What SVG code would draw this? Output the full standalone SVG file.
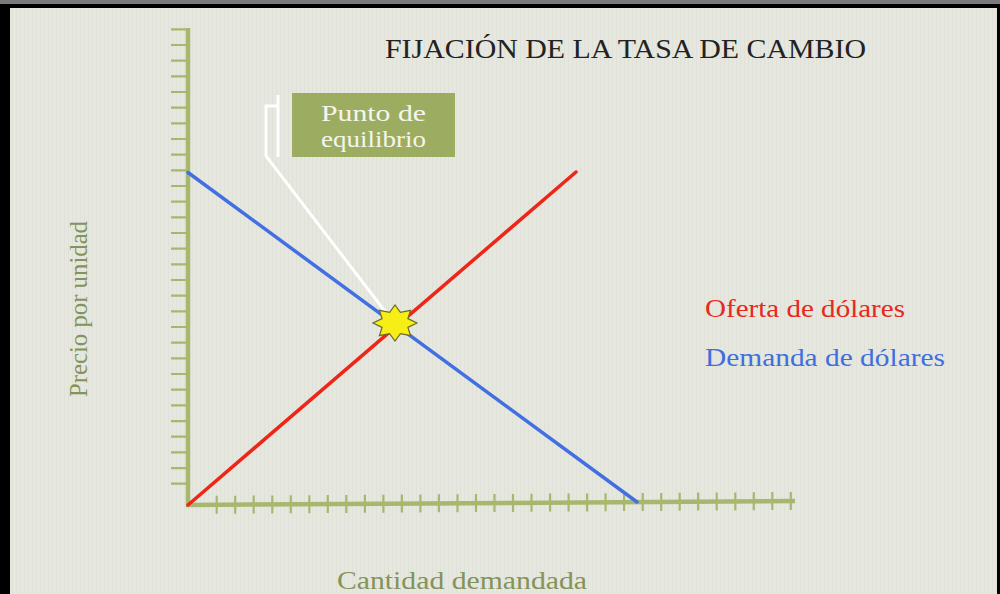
<svg xmlns="http://www.w3.org/2000/svg" width="1000" height="594" viewBox="0 0 1000 594">
<defs>
<style>
.axis{stroke:#a8b76e;stroke-width:4.5;fill:none;stroke-linecap:butt}
.tick{stroke:#a8b76e;stroke-width:2.2;fill:none}
.serif{font-family:"Liberation Serif","Times New Roman",serif}
.axlab{fill:#83935a;font-size:25px}
.leader{stroke:#ffffff;stroke-width:3;fill:none;stroke-linejoin:miter}
</style>
<pattern id="stripes" width="4" height="10" patternUnits="userSpaceOnUse">
<rect width="4" height="10" fill="#e6e7de"/>
<rect width="1" height="10" fill="#e0e1d8"/>
</pattern>
</defs>
<rect x="0" y="0" width="1000" height="594" fill="#000"/>
<rect x="0" y="0" width="1000" height="4" fill="#7a7a7a"/>
<rect x="10" y="8" width="987" height="586" fill="url(#stripes)"/>

<g id="title"><text class="serif" x="385" y="58" font-size="27" fill="#222" textLength="481" lengthAdjust="spacingAndGlyphs">FIJACIÓN DE LA TASA DE CAMBIO</text></g>

<g id="axes">
<path class="tick" d="M171,29.3h17M171,45h17M171,60.6h17M171,76.3h17M171,92h17M171,107.7h17M171,123.3h17M171,139h17M171,154.7h17M171,170.3h17M171,186h17M171,201.7h17M171,217.3h17M171,233h17M171,248.7h17M171,264.4h17M171,280h17M171,295.7h17M171,311.4h17M171,327h17M171,342.7h17M171,358.4h17M171,374h17M171,389.7h17M171,405.4h17M171,421.1h17M171,436.7h17M171,452.4h17M171,468.1h17M171,483.7h17"/>
<path class="tick" d="M216.7,495.8v18M235.2,495.7v18M253.7,495.6v18M272.3,495.4v18M290.8,495.3v18M309.3,495.2v18M327.8,495.1v18M346.3,495v18M364.9,494.8v18M383.4,494.7v18M401.9,494.6v18M420.4,494.5v18M438.9,494.3v18M457.5,494.2v18M476,494.1v18M494.5,494v18M513,493.9v18M531.5,493.7v18M550.1,493.6v18M568.6,493.5v18M587.1,493.4v18M605.6,493.2v18M624.1,493.1v18M642.7,493v18M661.2,492.9v18M679.7,492.8v18M698.2,492.6v18M716.7,492.5v18M735.3,492.4v18M753.8,492.3v18M772.3,492.1v18M790.8,492v18"/>
<path class="axis" d="M188,28V505L795,501"/>
</g>

<g id="demand-curve"><line x1="188" y1="172.5" x2="637" y2="502" stroke="#4270e2" stroke-width="3.5" stroke-linecap="round"/></g>
<g id="supply-curve"><line x1="188" y1="505" x2="576" y2="172" stroke="#ee2618" stroke-width="3.5" stroke-linecap="round"/></g>

<g id="connectors">
<path class="leader" d="M387,314L266,156V106H278"/>
<path class="leader" d="M278,95V157"/>
</g>

<g id="callout">
<rect x="292" y="93" width="163" height="64" fill="#9cad62"/>
<text class="serif" x="373.5" y="121" font-size="23" fill="#f5f5ec" text-anchor="middle" textLength="105" lengthAdjust="spacingAndGlyphs">Punto de</text>
<text class="serif" x="373.5" y="147" font-size="23" fill="#f5f5ec" text-anchor="middle" textLength="105" lengthAdjust="spacingAndGlyphs">equilibrio</text>
</g>

<g id="equilibrium-star"><polygon points="417,323 407.9,327.4 410.6,335.7 400.4,333.6 395,341 389.6,333.6 379.4,335.7 382.1,327.4 373,323 382.1,318.6 379.4,310.3 389.6,312.4 395,305 400.4,312.4 410.6,310.3 407.9,318.6" fill="#f6ee14" stroke="#6b6a26" stroke-width="1.2" stroke-linejoin="miter"/></g>

<g id="legend-supply"><text class="serif" x="705" y="317" font-size="25" fill="#e8281c" textLength="200" lengthAdjust="spacingAndGlyphs">Oferta de dólares</text></g>
<g id="legend-demand"><text class="serif" x="705" y="366" font-size="25" fill="#3f6ee0" textLength="240" lengthAdjust="spacingAndGlyphs">Demanda de dólares</text></g>

<g id="y-label"><text class="serif axlab" transform="translate(87,397) rotate(-90)" x="0" y="0" textLength="176" lengthAdjust="spacingAndGlyphs">Precio por unidad</text></g>
<g id="x-label"><text class="serif axlab" x="337" y="589" textLength="250" lengthAdjust="spacingAndGlyphs">Cantidad demandada</text></g>
</svg>
